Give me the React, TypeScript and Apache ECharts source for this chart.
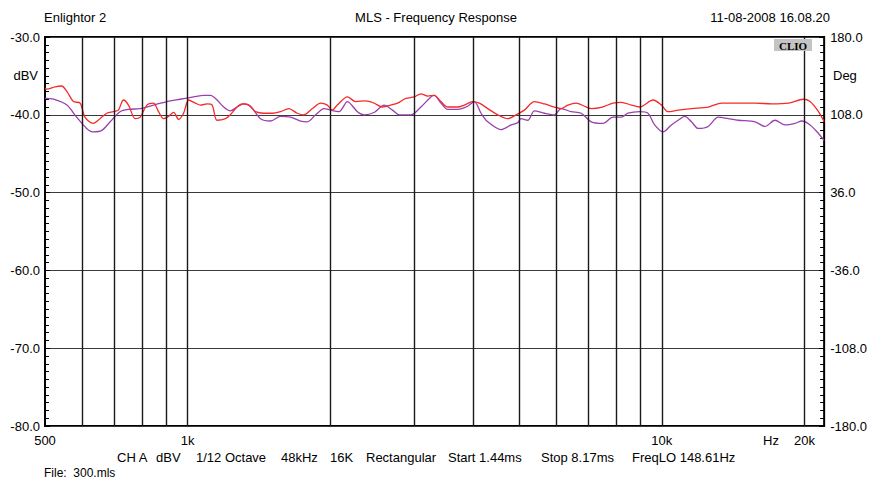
import React, { useEffect, useRef } from "react";
import * as echarts from "echarts";

const redFreq = [500, 504, 525, 542, 556, 574, 593, 607, 632, 653, 675, 697, 714, 732, 750, 775, 794, 820, 847, 868, 889, 911, 934, 957, 980, 1005, 1038, 1063, 1099, 1126, 1153, 1201, 1230, 1271, 1303, 1345, 1390, 1447, 1508, 1569, 1634, 1702, 1758, 1832, 1907, 1970, 2018, 2068, 2172, 2261, 2374, 2472, 2575, 2682, 2771, 2885, 3004, 3103, 3206, 3311, 3421, 3535, 3711, 3832, 3991, 4122, 4294, 4508, 4733, 4928, 5130, 5387, 5657, 5937, 6133, 6336, 6600, 6873, 7099, 7455, 7891, 8216, 8627, 8981, 9585, 9982, 10313, 10827, 11550, 12530, 13371, 14502, 15722, 17056, 18496, 19893, 20546, 21403, 22000];
const redDb = [-36.6, -36.7, -36.4, -36.3, -37.0, -38.3, -38.5, -40.3, -41.1, -40.5, -39.8, -39.6, -39.4, -38.1, -38.75, -40.5, -40.3, -38.75, -38.5, -39.6, -40.5, -40.2, -39.7, -40.6, -39.8, -38.1, -38.5, -38.75, -38.6, -38.75, -40.7, -40.5, -40.0, -39.0, -38.6, -38.75, -39.6, -39.8, -39.8, -39.6, -39.2, -39.8, -40.0, -39.2, -38.5, -38.75, -39.4, -38.75, -37.7, -38.3, -38.2, -38.5, -39.0, -38.75, -38.5, -37.9, -37.7, -37.3, -37.6, -37.5, -38.3, -39.0, -39.0, -38.75, -38.3, -38.5, -39.2, -40.0, -40.5, -40.0, -39.4, -38.3, -38.6, -39.0, -39.2, -38.75, -38.5, -38.9, -39.2, -39.05, -38.5, -38.4, -38.75, -39.0, -38.1, -38.75, -39.6, -39.4, -39.2, -39.0, -38.5, -38.5, -38.5, -38.6, -38.5, -38.0, -38.3, -39.6, -40.9];

const purpleFreq = [500, 521, 556, 583, 612, 632, 659, 686, 720, 750, 794, 847, 904, 964, 1029, 1081, 1117, 1153, 1191, 1230, 1271, 1313, 1357, 1424, 1495, 1569, 1648, 1730, 1788, 1861, 1939, 2002, 2085, 2172, 2280, 2355, 2472, 2596, 2704, 2793, 2956, 3103, 3258, 3311, 3421, 3535, 3711, 3895, 4023, 4157, 4294, 4580, 4809, 4968, 5049, 5215, 5387, 5657, 5937, 6133, 6441, 6763, 7099, 7516, 7891, 8216, 8484, 8981, 9351, 9658, 10062, 10477, 10827, 11183, 11550, 11935, 12530, 13152, 13808, 14502, 15722, 16506, 17327, 18192, 19095, 19741, 20546, 21403, 22000];
const purpleDb = [-37.9, -38.0, -38.75, -40.3, -41.75, -42.2, -42.0, -40.9, -39.6, -39.3, -39.2, -38.75, -38.3, -38.0, -37.7, -37.5, -37.5, -38.1, -39.0, -39.5, -39.0, -38.6, -38.9, -40.5, -40.8, -40.2, -40.3, -40.8, -40.9, -40.0, -39.2, -39.4, -39.6, -38.3, -39.6, -40.0, -39.7, -38.75, -39.4, -40.0, -40.0, -39.0, -37.7, -37.5, -38.5, -39.3, -39.3, -38.9, -38.3, -39.8, -40.9, -41.9, -41.3, -41.0, -40.5, -40.7, -39.5, -39.8, -40.0, -39.2, -39.6, -39.8, -40.9, -41.1, -40.3, -40.3, -39.8, -39.6, -39.8, -41.3, -42.2, -41.3, -40.7, -40.2, -40.9, -41.75, -41.5, -40.3, -40.5, -40.7, -40.9, -41.5, -40.7, -41.3, -41.1, -40.8, -41.3, -42.4, -43.3];

const gridFreqs = [600, 700, 800, 900, 1000, 2000, 3000, 4000, 5000, 6000, 7000, 8000, 9000, 10000, 20000];
const xLabelValues = [500, 1000, 10000, 20000];
const xLabelTexts: Record<number, string> = { 500: "500", 1000: "1k", 10000: "10k", 20000: "20k" };

const headerLeft = "Enlightor 2";
const headerTitle = "MLS - Frequency Response";
const headerDate = "11-08-2008 16.08.20";
const footerParts = ["CH A", "dBV", "1/12 Octave", "48kHz", "16K", "Rectangular", "Start 1.44ms", "Stop 8.17ms", "FreqLO 148.61Hz"];
const footerX = [117, 156, 196, 281, 330, 366, 448, 541, 632];
const fileText = "File:  300.mls";

const FONT = "Liberation Sans, Arial, sans-serif";

export default function App() {
  const ref = useRef<HTMLDivElement>(null);
  useEffect(() => {
    if (!ref.current) return;
    const chart = echarts.init(ref.current, null, { renderer: "svg" });
    const redData = redFreq.map((f, i) => [f, redDb[i]]);
    const purpleData = purpleFreq.map((f, i) => [f, purpleDb[i]]);
    const textStyle = { fontFamily: FONT, fontSize: 13, fill: "#000" };
    const graphics: any[] = [
      { type: "text", x: 44, y: 17, style: { ...textStyle, text: headerLeft, align: "left", verticalAlign: "middle" } },
      { type: "text", x: 436, y: 17, style: { ...textStyle, text: headerTitle, align: "center", verticalAlign: "middle" } },
      { type: "text", x: 830, y: 17, style: { ...textStyle, text: headerDate, align: "right", verticalAlign: "middle" } },
      { type: "text", x: 38, y: 75, style: { ...textStyle, text: "dBV", align: "right", verticalAlign: "middle" } },
      { type: "text", x: 833, y: 75, style: { ...textStyle, text: "Deg", align: "left", verticalAlign: "middle" } },
      { type: "text", x: 771, y: 440, style: { ...textStyle, text: "Hz", align: "center", verticalAlign: "middle" } },
      { type: "rect", shape: { x: 774, y: 39, width: 38, height: 12 }, style: { fill: "#c4c4c4" }, z: 10 },
      { type: "text", x: 793, y: 45.5, z: 11, style: { text: "CLIO", fontFamily: "Liberation Serif, serif", fontWeight: "bold", fontSize: 11, fill: "#000", align: "center", verticalAlign: "middle" } },
      { type: "text", x: 44, y: 473, style: { ...textStyle, fontSize: 12, text: fileText, align: "left", verticalAlign: "middle" } },
    ];
    footerParts.forEach((t, i) => {
      graphics.push({ type: "text", x: footerX[i], y: 457, style: { ...textStyle, text: t, align: "left", verticalAlign: "middle" } });
    });

    chart.setOption({
      animation: false,
      backgroundColor: "#fff",
      grid: { left: 45, right: 44, top: 37, bottom: 55, show: true, borderColor: "#000", borderWidth: 2, backgroundColor: "transparent" },
      xAxis: {
        type: "log",
        logBase: 10,
        min: 500,
        max: 22000,
        axisLine: { show: false },
        axisTick: { show: false },
        splitLine: { show: false },
        minorSplitLine: { show: false },
        axisLabel: {
          customValues: xLabelValues,
          formatter: (v: number) => xLabelTexts[Math.round(v)] ?? "",
          fontFamily: FONT,
          fontSize: 13,
          color: "#000",
          margin: 8,
        },
      },
      yAxis: [
        {
          type: "value",
          min: -80,
          max: -30,
          interval: 10,
          position: "left",
          axisLine: { show: false },
          axisTick: { show: true, inside: true, length: 5, lineStyle: { color: "#000" } },
          minorTick: { show: true, splitNumber: 10, length: 4, lineStyle: { color: "#000" } },
          splitLine: { show: true, lineStyle: { color: "#3a3a3a", width: 1.2 } },
          axisLabel: { formatter: (v: number) => v.toFixed(1), fontFamily: FONT, fontSize: 13, color: "#000", margin: 5 },
        },
        {
          type: "value",
          min: 0,
          max: 360,
          interval: 72,
          position: "right",
          axisLine: { show: false },
          axisTick: { show: true, inside: true, length: 5, lineStyle: { color: "#000" } },
          minorTick: { show: true, splitNumber: 10, length: 4, lineStyle: { color: "#000" } },
          splitLine: { show: false },
          axisLabel: { formatter: (v: number) => (v - 180).toFixed(1), fontFamily: FONT, fontSize: 13, color: "#000", margin: 6 },
        },
      ],
      graphic: graphics,
      series: [
        {
          type: "line",
          data: [],
          z: 1,
          markLine: {
            silent: true,
            symbol: "none",
            label: { show: false },
            lineStyle: { color: "#1a1a1a", width: 1.4, type: "solid" },
            data: gridFreqs.map((f) => ({ xAxis: f })),
          },
        },
        {
          type: "line",
          name: "phase",
          data: purpleData,
          showSymbol: false,
          smooth: 0.3,
          z: 3,
          lineStyle: { color: "#9a40ae", width: 1.3 },
        },
        {
          type: "line",
          name: "magnitude",
          data: redData,
          showSymbol: false,
          smooth: 0.3,
          z: 4,
          lineStyle: { color: "#f52a2a", width: 1.3 },
        },
      ],
    });
    return () => chart.dispose();
  }, []);
  return <div ref={ref} style={{ position: "absolute", left: 0, top: 0, width: 870, height: 481 }} />;
}
